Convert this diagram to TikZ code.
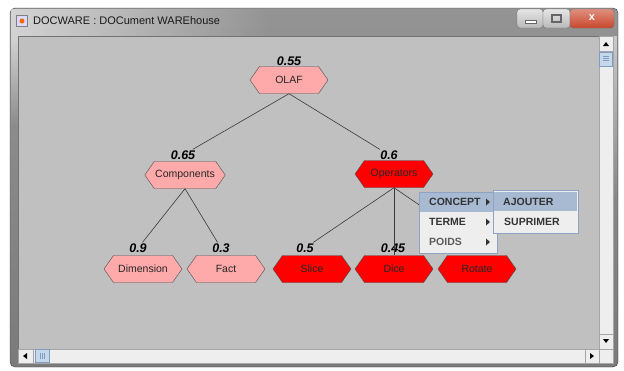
\documentclass[tikz,border=0pt]{standalone}
\usepackage{fontspec}
\setmainfont{Liberation Sans}
\usetikzlibrary{shapes.symbols,calc,fadings}

\definecolor{panelgray}{HTML}{C0C0C0}
\definecolor{pinknode}{HTML}{FFAAAA}
\definecolor{rednode}{HTML}{FF0000}
\definecolor{edgegray}{HTML}{3A3A3A}
\definecolor{menubg}{HTML}{EEEEEE}
\definecolor{menuline}{HTML}{8EA2C4}
\definecolor{menuhi}{HTML}{A8BAD2}
\definecolor{menutext}{HTML}{333333}
\definecolor{framedark}{HTML}{3C3C3C}
\definecolor{scrollbg}{HTML}{EEEEEE}
\definecolor{thumbblue}{HTML}{C6D7EA}
\definecolor{thumbline}{HTML}{7D9CC6}
\definecolor{closered}{HTML}{C9462C}

\tikzset{
  concept/.style={signal, signal to=west and east, signal pointer angle=110,
    draw=black!70, minimum width=78pt, minimum height=27pt, inner sep=1pt,
    font=\fontsize{10.5}{12}\selectfont, text=black!85},
  light/.style={concept, fill=pinknode},
  hot/.style={concept, fill=rednode},
  poids/.style={font=\fontsize{12.5}{14}\selectfont\bfseries\itshape, inner sep=1pt},
  arc/.style={draw=edgegray, line width=0.6pt},
  menuitem/.style={anchor=west, inner sep=0pt, text=menutext,
    font=\fontsize{10.5}{12}\selectfont\bfseries},
  submark/.style={fill=menutext, draw=none},
  winbtn/.style={draw=black!55, rounded corners=3pt},
}

\begin{document}
\begin{tikzpicture}[x=1pt,y=-1pt]
\useasboundingbox (0,0) rectangle (624,370);

% window frame and title bar
\shade[top color=black!42, bottom color=black!52, draw=framedark,
  rounded corners=5pt] (10,8) rectangle (618,367);
\fill[white, opacity=0.6, path fading=east] (11,9) rectangle (270,36);
\fill[white, opacity=0.6, path fading=south] (11,36) rectangle (18,125);
\fill[white, opacity=0.5, path fading=south] (613,36) rectangle (617,200);
\node[draw=gray, fill=blue!15, minimum size=11pt, inner sep=0pt] (icon) at (22,21) {};
\fill[orange!80!red] (icon.center) circle (2.5pt);
\node[anchor=west, inner sep=0pt, font=\fontsize{11}{13}\selectfont,
  text=black!90] (title) at (33,21) {DOCWARE : DOCument WAREhouse};

\shade[winbtn, top color=gray!20, bottom color=gray!55] (517,9) rectangle (543,28);
\shade[winbtn, top color=gray!20, bottom color=gray!55] (543,9) rectangle (570,28);
\shade[winbtn, top color=closered!60, bottom color=closered] (570,9) rectangle (614,28);
\draw[fill=white, draw=black!60, line width=0.4pt] (525,20) rectangle (536,23);
\draw[draw=black!60, line width=1.2pt] (552,15) rectangle (561,22);
\node[text=white, font=\fontsize{11}{12}\selectfont\bfseries, inner sep=0pt] (close) at (592,18) {x};

% drawing panel
\fill[panelgray, draw=black!55] (18,36) rectangle (599,349);

% scroll bars
\fill[scrollbg, draw=gray!70] (599,36) rectangle (613,349);
\fill[scrollbg, draw=gray!70] (18,349) rectangle (599,363);
\fill[scrollbg, draw=gray!70] (599,349) rectangle (613,363);
\draw[gray!70] (599,51) -- (613,51) (599,334) -- (613,334);
\draw[gray!70] (33,349) -- (33,363) (585,349) -- (585,363);
\fill[black] (603,46) -- (609,46) -- (606,42) -- cycle;
\fill[black] (603,339) -- (609,339) -- (606,343) -- cycle;
\fill[black] (27,353) -- (27,359) -- (23,356) -- cycle;
\fill[black] (590,353) -- (590,359) -- (594,356) -- cycle;
\draw[fill=thumbblue, draw=thumbline] (599.5,52) rectangle (612.5,66);
\draw[fill=thumbblue, draw=thumbline] (35,349.5) rectangle (49,362.5);
\foreach \g in {40,42,44}
  \draw[thumbline, line width=0.4pt] (\g,353) -- (\g,359);
\foreach \g in {56,58,60}
  \draw[thumbline, line width=0.4pt] (603,\g) -- (609,\g);

% concept tree
\node[light] (olaf) at (289,80) {OLAF};
\node[light] (components) at (185,175) {Components};
\node[hot] (operators) at (394,174) {Operators};
\node[light] (dimension) at (143,269) {Dimension};
\node[light] (fact) at (226,269) {Fact};
\node[hot] (slice) at (312,269) {Slice};
\node[hot] (dice) at (394,269) {Dice};
\node[hot] (rotate) at (477,269) {Rotate};

% weights
\node[poids] (w-olaf) at (289,61) {0.55};
\node[poids] (w-components) at (183,155) {0.65};
\node[poids] (w-operators) at (389,155) {0.6};
\node[poids] (w-dimension) at (138,248) {0.9};
\node[poids] (w-fact) at (221,248) {0.3};
\node[poids] (w-slice) at (305,248) {0.5};
\node[poids] (w-dice) at (393,248) {0.45};
\coordinate (w-rotate) at (478,245);

\draw[arc] (olaf.south) -- (w-components);
\draw[arc] (olaf.south) -- (w-operators);
\draw[arc] (components.south) -- (w-dimension);
\draw[arc] (components.south) -- (w-fact);
\draw[arc] (operators.south) -- (w-slice);
\draw[arc] (operators.south) -- (dice.north);
\draw[arc] (operators.south) -- (w-rotate);

% popup menu
\draw[fill=menubg, draw=menuline] (419,192) rectangle (497,253);
\fill[menuhi] (420,193) rectangle (496,212);
\node[menuitem] (concept) at (429,202) {CONCEPT};
\node[menuitem] (terme) at (429,222) {TERME};
\node[menuitem, text=menutext!80] (poids) at (429,242) {POIDS};
\foreach \r in {202,222,242}
  \fill[submark] (486,\r-3.5) -- (486,\r+3.5) -- (490,\r) -- cycle;

\draw[fill=menubg, draw=menuline] (493,190) rectangle (578,233);
\fill[menuhi] (494,192) rectangle (577,211);
\node[menuitem] (ajouter) at (503,202) {AJOUTER};
\node[menuitem] (suprimer) at (504,222) {SUPRIMER};
\end{tikzpicture}
\end{document}
